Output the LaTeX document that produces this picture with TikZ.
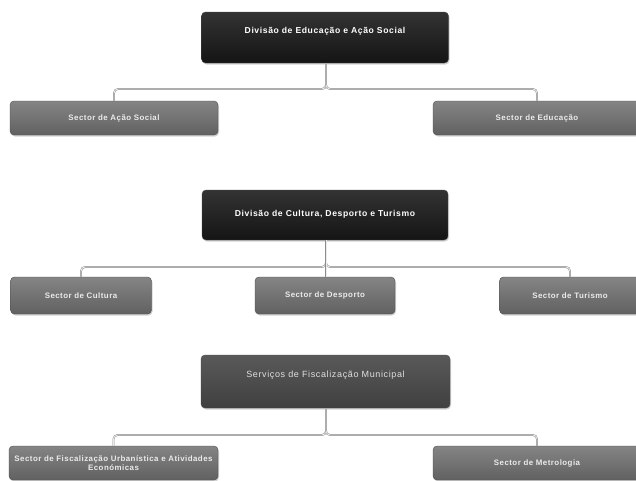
\documentclass[tikz,border=0pt]{standalone}
\usepackage{fontspec}
\setmainfont{Liberation Sans}
\newfontfamily\hdfont[LetterSpace=7]{Liberation Sans}
\newfontfamily\sbfont[LetterSpace=6]{Liberation Sans}
\usetikzlibrary{shadows}
\begin{document}
\begin{tikzpicture}[x=1pt,y=-1pt,
  box/.style={rounded corners=4pt, draw=black!70, line width=0.4pt, inner sep=2pt,
    align=center, font=\sbfont\fontsize{7.9}{9.5}\selectfont\bfseries,
    drop shadow={opacity=0.35, shadow xshift=1pt, shadow yshift=-1.5pt}},
  headbox/.style={box, top color=black!80, bottom color=black!92, text=white},
  headtext/.style={text=white, font=\hdfont\fontsize{8.6}{10}\selectfont\bfseries},
  servbox/.style={box, top color=black!65, bottom color=black!75},
  servtext/.style={text=black!12, font=\hdfont\fontsize{9}{10}\selectfont},
  subbox/.style={box, top color=black!48, bottom color=black!62, text=black!8},
  conn/.style={draw=black!45, double=black!8, double distance=0.9pt, line width=0.45pt,
    rounded corners=4pt}
]
\useasboundingbox[fill=white] (0,0) rectangle (636,480);

% Group 1
\node[headbox, minimum width=247pt, minimum height=51pt] (d1) at (325,37.5) {};
\node[headtext] (d1t) at (325,31) {Divisão de Educação e Ação Social};
\node[subbox, minimum width=208pt, minimum height=34pt] (s11) at (114,118) {Sector de Ação Social};
\node[subbox, minimum width=208pt, minimum height=34pt] (s12) at (537,118) {Sector de Educação};
\coordinate (j1) at (326,89);
\draw[conn] (d1.south -| j1) -- (j1) -| (s11.north);
\draw[conn] (d1.south -| j1) -- (j1) -| (s12.north);

% Group 2
\node[headbox, minimum width=246pt, minimum height=50pt] (d2) at (325,215) {};
\node[headtext] (d2t) at (325,214) {Divisão de Cultura, Desporto e Turismo};
\node[subbox, minimum width=141pt, minimum height=37pt] (s21) at (81,295.5) {Sector de Cultura};
\node[subbox, minimum width=140pt, minimum height=37pt] (s22) at (325,295.5) {Sector de Desporto};
\node[subbox, minimum width=141pt, minimum height=37pt] (s23) at (570,295.5) {Sector de Turismo};
\coordinate (j2) at (326,267);
\draw[conn] (d2.south -| j2) -- (j2) -| (s21.north);
\draw[conn] (d2.south -| j2) -- (j2) -| (s23.north);
\draw[conn] (d2.south -| j2) -- (s22.north -| j2);

% Group 3
\node[servbox, minimum width=249pt, minimum height=53pt] (d3) at (325.5,381.5) {};
\node[servtext] (d3t) at (325.5,375) {Serviços de Fiscalização Municipal};
\node[subbox, minimum width=209pt, minimum height=34pt] (s31) at (113.5,463) {Sector de Fiscalização Urbanística e Atividades\\Económicas};
\node[subbox, minimum width=208pt, minimum height=34pt] (s32) at (537,463) {Sector de Metrologia};
\coordinate (j3) at (326,435);
\draw[conn] (d3.south -| j3) -- (j3) -| (s31.north);
\draw[conn] (d3.south -| j3) -- (j3) -| (s32.north);
\end{tikzpicture}
\end{document}
